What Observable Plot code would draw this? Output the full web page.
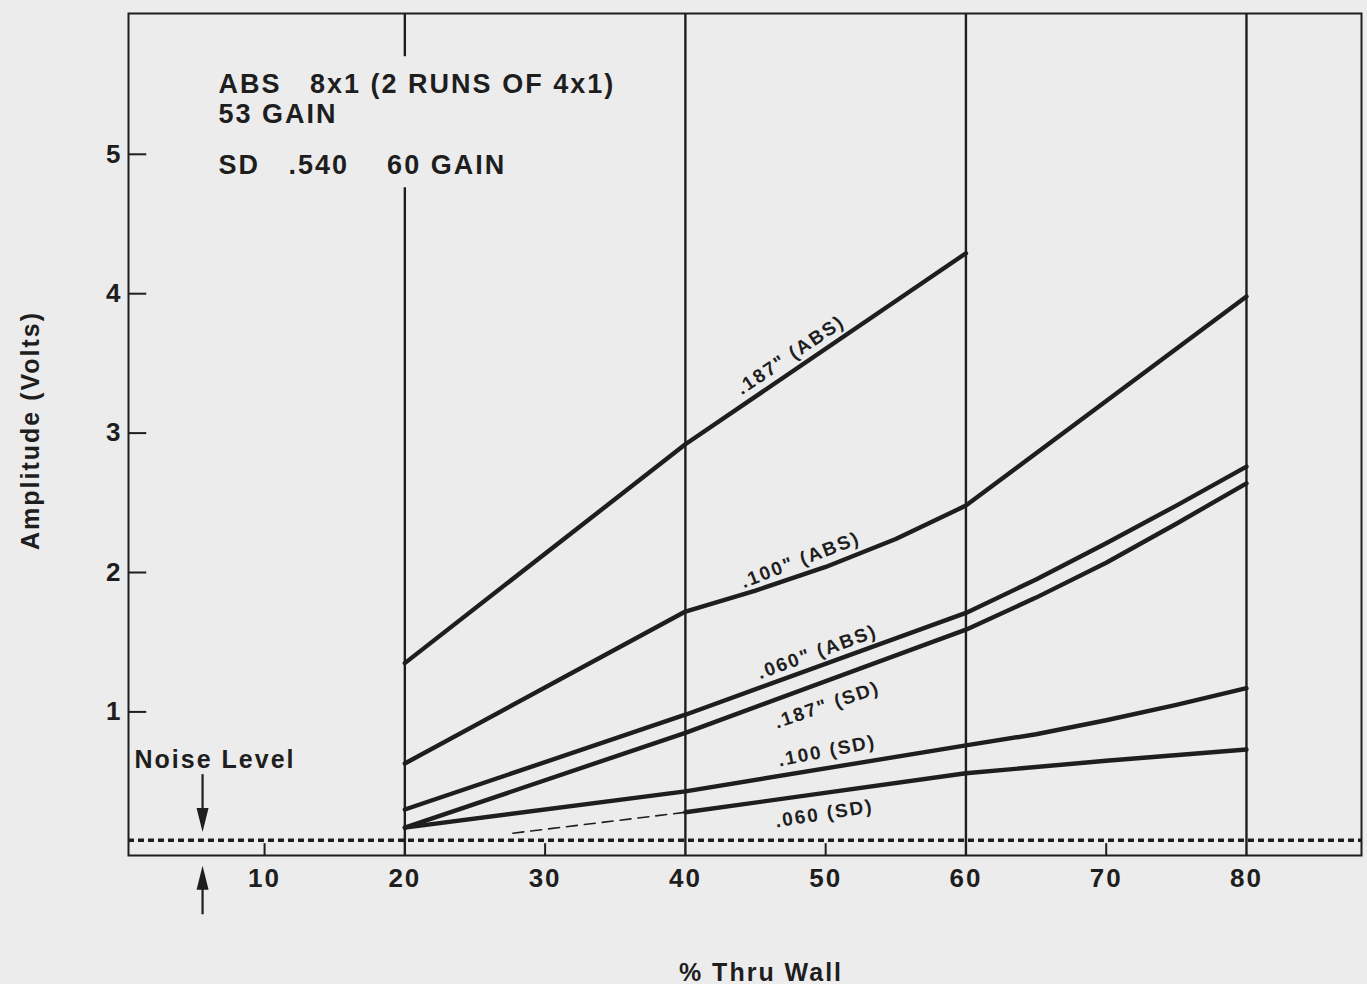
<!DOCTYPE html>
<html>
<head>
<meta charset="utf-8">
<script src="https://cdn.jsdelivr.net/npm/d3@7"></script>
<script src="https://cdn.jsdelivr.net/npm/@observablehq/plot@0.6"></script>
<style>
  html, body { margin: 0; padding: 0; background: #ececec; }
  #chart svg { display: block; }
</style>
</head>
<body>
<div id="chart"></div>
<script>
// ---- data ----
const xTicks = [10, 20, 30, 40, 50, 60, 70, 80];
const yTicks = [1, 2, 3, 4, 5];
const gridX = [20, 40, 60, 80];
const minorX = [10, 30, 50, 70];

const abs187X = [20, 40, 60];
const abs187Y = [1.35, 2.92, 4.29];
const abs100X = [20, 40, 45, 50, 55, 60, 80];
const abs100Y = [0.63, 1.72, 1.87, 2.04, 2.24, 2.48, 3.98];
const abs060X = [20, 40, 60, 65, 70, 75, 80];
const abs060Y = [0.30, 0.98, 1.71, 1.95, 2.21, 2.48, 2.76];
const sd187X = [20, 40, 60, 65, 70, 75, 80];
const sd187Y = [0.17, 0.85, 1.59, 1.82, 2.07, 2.35, 2.64];
const sd100X = [20, 40, 60, 65, 70, 75, 80];
const sd100Y = [0.17, 0.43, 0.76, 0.84, 0.94, 1.05, 1.17];
const sd060X = [40, 60, 70, 80];
const sd060Y = [0.28, 0.56, 0.65, 0.73];
const sd060DashX = [27.7, 40];
const sd060DashY = [0.13, 0.28];

const noiseLevel = 0.08;

const curveLabels = ['.187" (ABS)', '.100" (ABS)', '.060" (ABS)', '.187" (SD)', '.100 (SD)', '.060 (SD)'];
const curveLabelX = [47.5, 48.2, 49.4, 50.1, 50.1, 49.9];
const curveLabelY = [3.56, 2.09, 1.43, 1.05, 0.72, 0.27];
const curveLabelAngle = [-34, -21, -20, -19, -11, -9];

const noteLines = ["ABS\u00a0\u00a0\u00a08x1 (2 RUNS OF 4x1)", "53 GAIN", "SD\u00a0\u00a0\u00a0.540\u00a0\u00a0\u00a0\u00a060 GAIN"];
const noteY = [5.50, 5.29, 4.92];
const noteX = 6.72;

const arrowX = 5.58;

// ---- build tables ----
const zip = (name, xs, ys) => xs.map((x, i) => ({series: name, x, y: ys[i]}));
const rows = [
  ...zip(".187 ABS", abs187X, abs187Y),
  ...zip(".100 ABS", abs100X, abs100Y),
  ...zip(".060 ABS", abs060X, abs060Y),
  ...zip(".187 SD", sd187X, sd187Y),
  ...zip(".100 SD", sd100X, sd100Y),
  ...zip(".060 SD", sd060X, sd060Y)
];
const dashRows = zip(".060 SD dash", sd060DashX, sd060DashY);
const labels = curveLabels.map((t, i) => ({t, x: curveLabelX[i], y: curveLabelY[i], a: curveLabelAngle[i]}));
const notes = noteLines.map((t, i) => ({t, y: noteY[i]}));

const xDomain = [0.3, 88.2];
const yDomain = [-0.03, 6.01];
const ink = "#1e1e1e";
const FONT = "'Liberation Sans', Arial, Helvetica, sans-serif";
const NARROW = "'Liberation Sans Narrow', 'Arial Narrow', 'Liberation Sans', sans-serif";

const chart = Plot.plot({
  width: 1367,
  height: 984,
  marginLeft: 128,
  marginRight: 6,
  marginTop: 13,
  marginBottom: 129,
  style: {background: "#ececec", color: ink, fontFamily: FONT, fontWeight: "bold", fontSize: "26px", letterSpacing: "2px"},
  x: {domain: xDomain, ticks: xTicks, tickSize: 0, tickPadding: 13, tickFormat: d => String(d), label: null},
  y: {domain: yDomain, ticks: yTicks, tickSize: 0, tickPadding: 6, tickFormat: d => String(d), label: null},
  marks: [
    Plot.frame({stroke: ink, strokeWidth: 2}),
    Plot.ruleX(gridX.filter(d => d !== 20), {stroke: ink, strokeWidth: 2.4}),
    Plot.ruleX([{y1: yDomain[0], y2: 4.76}, {y1: 5.70, y2: yDomain[1]}], {x: () => 20, y1: "y1", y2: "y2", stroke: ink, strokeWidth: 2.4}),
    Plot.ruleX(minorX, {y1: yDomain[0], y2: 0.055, stroke: ink, strokeWidth: 2}),
    Plot.ruleY(yTicks, {x1: xDomain[0], x2: 1.6, stroke: ink, strokeWidth: 2}),
    Plot.ruleY([noiseLevel], {x1: xDomain[0], x2: xDomain[1], stroke: ink, strokeWidth: 3.5, strokeDasharray: "6,4"}),
    Plot.line(dashRows, {x: "x", y: "y", stroke: ink, strokeWidth: 1.6, strokeDasharray: "11,7"}),
    Plot.line(rows, {x: "x", y: "y", z: "series", stroke: ink, strokeWidth: 4.4, strokeLinejoin: "round"}),
    Plot.text(labels, {x: "x", y: "y", text: "t", rotate: "a", fontFamily: NARROW, fontWeight: "bold", fontSize: 19, fill: ink}),
    Plot.text(notes, {x: noteX, y: "y", text: "t", textAnchor: "start", fontSize: 27, fill: ink}),
    Plot.text(["Noise Level"], {x: 0.73, y: 0.656, textAnchor: "start", fontSize: 25, fill: ink}),
    Plot.ruleX([arrowX], {y1: 0.55, y2: 0.30, stroke: ink, strokeWidth: 2.2}),
    Plot.vector([{x: arrowX, y: 0.31}], {x: "x", y: "y", length: 24, r: 6, rotate: 180, shape: "spike", anchor: "start", fill: ink, stroke: "none"}),
    Plot.ruleX([arrowX], {y1: -0.27, y2: -0.455, stroke: ink, strokeWidth: 2.2}),
    Plot.vector([{x: arrowX, y: -0.276}], {x: "x", y: "y", length: 24, r: 6, rotate: 0, shape: "spike", anchor: "start", fill: ink, stroke: "none"}),
    Plot.text(["Amplitude (Volts)"], {frameAnchor: "left", textAnchor: "middle", dx: -98, dy: -4, rotate: -90, fontSize: 25, fill: ink}),
    Plot.text(["% Thru Wall"], {frameAnchor: "bottom", dx: 16, dy: 125, fontSize: 25, fill: ink})
  ]
});
document.getElementById("chart").appendChild(chart);
</script>
</body>
</html>
